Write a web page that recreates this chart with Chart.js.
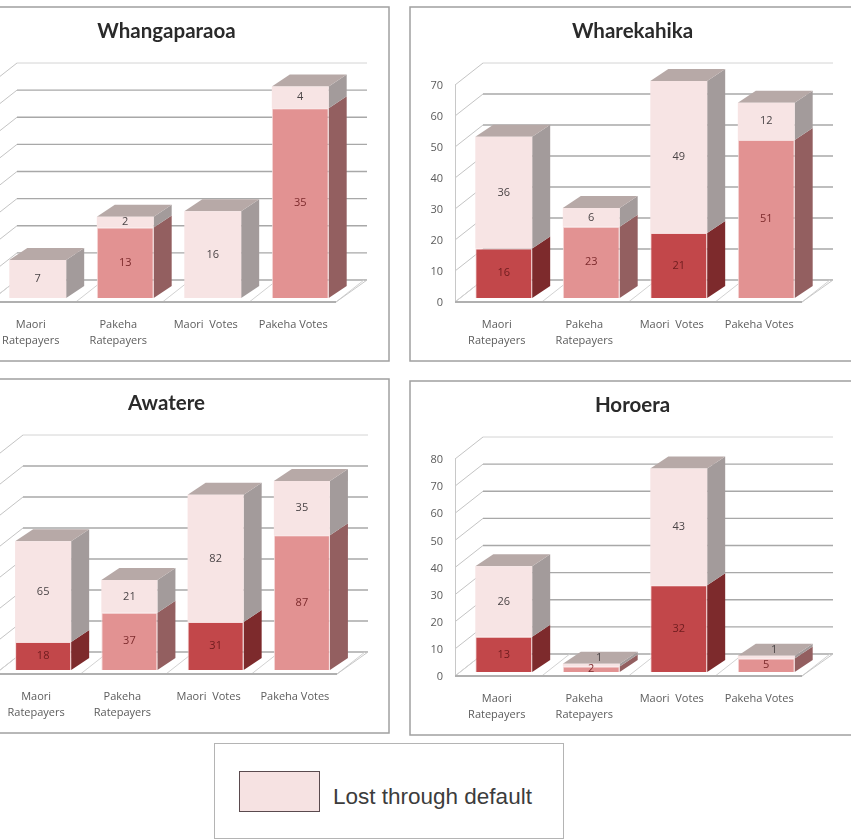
<!DOCTYPE html>
<html>
<head>
<meta charset="utf-8">
<title>Lost through default by block</title>
<script src="https://cdn.jsdelivr.net/npm/chart.js@4"></script>
<style>
  html, body { margin: 0; padding: 0; background: #fff; overflow: hidden; }
  body { position: relative; width: 851px; height: 840px; }
  .panel { position: absolute; width: 447px; height: 356px; }
  .panel canvas { display: block; }
  #legend {
    position: absolute; left: 214px; top: 743px; width: 348px; height: 94px;
    border: 1px solid #b4b4b4; box-sizing: content-box; background: #fff;
  }
  #legend i {
    position: absolute; left: 24px; top: 27px; width: 79px; height: 39px;
    background: #f6e2e2; border: 1px solid #5a4a4e;
  }
  #legend span {
    position: absolute; left: 118px; top: 40px; line-height: 26px;
    font: 22.5px "Liberation Sans", Arial, sans-serif; color: #3c3c3c;
  }
</style>
</head>
<body>
<div class="panel" style="left:-57px;top:6px"><canvas id="whangaparaoa"></canvas></div>
<div class="panel" style="left:409px;top:6px"><canvas id="wharekahika"></canvas></div>
<div class="panel" style="left:-57px;top:378px"><canvas id="awatere"></canvas></div>
<div class="panel" style="left:409px;top:380px"><canvas id="horoera"></canvas></div>
<div id="legend"><i></i><span>Lost through default</span></div>

<script>
// Shared category labels
const categories = [['Maori', 'Ratepayers'], ['Pakeha', 'Ratepayers'], 'Maori  Votes', 'Pakeha Votes'];

// Counts per block: retained (lower segment) and lost through default (upper segment)
const whangaparaoaKept = [0, 13, 0, 35];
const whangaparaoaLost = [7, 2, 16, 4];
const wharekahikaKept = [16, 23, 21, 51];
const wharekahikaLost = [36, 6, 49, 12];
const awatereKept = [18, 37, 31, 87];
const awatereLost = [65, 21, 82, 35];
const horoeraKept = [13, 2, 32, 5];
const horoeraLost = [26, 1, 43, 1];

// Lower segment colours: Maori columns are deep red, Pakeha columns rose
const keptFront = ['#c2474a', '#e29292', '#c2474a', '#e29292'];
const keptSide = ['#7d2a2c', '#935f60', '#7d2a2c', '#935f60'];
const lostFront = '#f7e4e4';
const lostSide = '#a39b9b';
const lostTop = '#b7a9a7';

// Box depth and the depth of the whole plot, both as a shift up and to the right
const BOX_DX = 18, BOX_DY = 12;
const WALL_DX = 28, WALL_DY = 22;
const PLANE_DX = 5, PLANE_DY = 4;

// Draws the side wall, back wall and floor behind the columns
const wallsPlugin = {
  id: 'walls',
  beforeDatasetsDraw(chart) {
    const { ctx, chartArea: a, scales: { y } } = chart;
    const frontX = a.left - PLANE_DX;
    const backX = frontX + WALL_DX;
    const floorRight = a.right - PLANE_DX - 3;
    const backRight = floorRight + WALL_DX + 3;
    ctx.save();
    ctx.lineWidth = 1;
    y.ticks.forEach((t, i) => {
      const py = y.getPixelForValue(t.value) + PLANE_DY;
      const last = i === y.ticks.length - 1;
      ctx.strokeStyle = last ? '#d4d4d4' : '#a8a8a8';
      ctx.lineWidth = last ? 1 : 1.4;
      ctx.beginPath();
      ctx.moveTo(backX, py - WALL_DY);
      ctx.lineTo(backRight, py - WALL_DY);
      ctx.stroke();
      ctx.strokeStyle = '#c4c4c4';
      ctx.lineWidth = 1;
      ctx.beginPath();
      ctx.moveTo(frontX, py);
      ctx.lineTo(backX, py - WALL_DY);
      ctx.stroke();
    });
    const baseY = y.getPixelForValue(0) + PLANE_DY;
    const topY = y.getPixelForValue(y.max) + PLANE_DY;
    // Front vertical edge of the side wall
    ctx.strokeStyle = '#c8c8c8';
    ctx.beginPath();
    ctx.moveTo(frontX + 0.5, topY);
    ctx.lineTo(frontX + 0.5, baseY);
    ctx.stroke();
    // Floor divisions between the categories
    ctx.strokeStyle = '#d2d2d2';
    for (let i = 0; i <= categories.length; i++) {
      const fx = frontX + (floorRight - frontX) * i / categories.length;
      ctx.beginPath();
      ctx.moveTo(fx, baseY);
      ctx.lineTo(fx + WALL_DX, baseY - WALL_DY);
      ctx.stroke();
    }
    // Front edge and right edge of the floor
    ctx.strokeStyle = '#b0b0b0';
    ctx.lineWidth = 2;
    ctx.beginPath();
    ctx.moveTo(frontX, baseY);
    ctx.lineTo(floorRight, baseY);
    ctx.stroke();
    ctx.lineWidth = 1;
    ctx.strokeStyle = '#c8c8c8';
    ctx.beginPath();
    ctx.moveTo(floorRight, baseY);
    ctx.lineTo(backRight, baseY - WALL_DY);
    ctx.stroke();
    ctx.restore();
  }
};

// Extrudes each column element into a box with a side and a lid
const boxPlugin = {
  id: 'box',
  beforeDatasetsDraw(chart) {
    const { ctx } = chart;
    ctx.save();
    chart.data.datasets.forEach((ds, d) => {
      chart.getDatasetMeta(d).data.forEach((bar, i) => {
        if (!ds.data[i]) return;
        const { x, y, base, width } = bar.getProps(['x', 'y', 'base', 'width']);
        const right = x + width / 2;
        const left = x - width / 2;
        ctx.fillStyle = ds.sideColor[i];
        ctx.beginPath();
        ctx.moveTo(right, base);
        ctx.lineTo(right + BOX_DX, base - BOX_DY);
        ctx.lineTo(right + BOX_DX, y - BOX_DY);
        ctx.lineTo(right, y);
        ctx.closePath();
        ctx.fill();
        if (d === chart.data.datasets.length - 1) {
          ctx.fillStyle = lostTop;
          ctx.beginPath();
          ctx.moveTo(left, y);
          ctx.lineTo(left + BOX_DX, y - BOX_DY);
          ctx.lineTo(right + BOX_DX, y - BOX_DY);
          ctx.lineTo(right, y);
          ctx.closePath();
          ctx.fill();
        }
      });
    });
    ctx.restore();
  }
};

// Writes each value on its segment; very thin upper segments carry it on the lid
const valueLabelPlugin = {
  id: 'valueLabels',
  afterDatasetsDraw(chart) {
    const { ctx } = chart;
    ctx.save();
    ctx.font = '11px "Open Sans", sans-serif';
    ctx.textAlign = 'center';
    ctx.textBaseline = 'middle';
    chart.data.datasets.forEach((ds, d) => {
      chart.getDatasetMeta(d).data.forEach((bar, i) => {
        const value = ds.data[i];
        if (!value) return;
        const { x, y, base } = bar.getProps(['x', 'y', 'base']);
        const onLid = d === 1 && base - y < 8;
        ctx.fillStyle = d === 0 ? ds.labelColor[i] : '#4a4446';
        ctx.fillText(String(value), onLid ? x + 8 : x, onLid ? y - 6 : (y + base) / 2);
      });
    });
    ctx.restore();
  }
};

// Outer frame of a panel
const framePlugin = {
  id: 'frame',
  beforeDraw(chart) {
    const { ctx, width, height } = chart;
    ctx.save();
    ctx.fillStyle = '#fff';
    ctx.fillRect(0, 0, width, height);
    ctx.strokeStyle = '#a0a0a0';
    ctx.lineWidth = 1.5;
    ctx.strokeRect(1, 1, width - 2, height - 2);
    ctx.restore();
  }
};

function makePanel(id, name, kept, lost, yMax, yStep, plotLeft, plotRight) {
  new Chart(document.getElementById(id), {
    type: 'bar',
    plugins: [framePlugin, wallsPlugin, boxPlugin, valueLabelPlugin],
    data: {
      labels: categories,
      datasets: [
        {
          label: 'Retained',
          data: kept,
          backgroundColor: keptFront,
          borderColor: '#f6dcdc',
          borderWidth: { left: 1, right: 1, top: 1 },
          borderSkipped: false,
          sideColor: keptSide,
          labelColor: ['#6e1c1e', '#7c2a2c', '#6e1c1e', '#7c2a2c'],
          clip: false
        },
        {
          label: 'Lost through default',
          data: lost,
          backgroundColor: lostFront,
          sideColor: lost.map(() => lostSide),
          clip: false
        }
      ]
    },
    options: {
      responsive: false,
      animation: false,
      barPercentage: 0.65,
      categoryPercentage: 1,
      plugins: {
        legend: { display: false },
        tooltip: { enabled: false },
        title: {
          display: true,
          text: name,
          color: '#2a2a2a',
          font: { family: 'Lato, sans-serif', size: 20.5, weight: 'bold', lineHeight: 1 },
          padding: { top: 15, bottom: 39.5 }
        }
      },
      scales: {
        x: {
          stacked: true,
          grid: { display: false, drawTicks: false },
          border: { display: false },
          afterFit(s) { s.height = 64; },
          ticks: {
            autoSkip: false,
            maxRotation: 0,
            padding: 19,
            labelOffset: -7,
            color: '#5c5c5c',
            font: { family: '"Open Sans", sans-serif', size: 11, lineHeight: 1.45 }
          }
        },
        y: {
          stacked: true,
          min: 0,
          max: yMax,
          grid: { display: false, drawTicks: false },
          border: { display: false },
          afterFit(s) { s.width = plotLeft; },
          ticks: {
            stepSize: yStep,
            padding: 17,
            labelOffset: 5,
            color: '#5c5c5c',
            font: { family: '"Open Sans", sans-serif', size: 11 }
          }
        },
        // Empty right-hand axis that reserves the margin beyond the plot, so the
        // title stays centred on the whole frame
        margin: {
          type: 'linear',
          position: 'right',
          grid: { display: false, drawTicks: false },
          border: { display: false },
          ticks: { display: false },
          afterFit(s) { s.width = 447 - plotRight; }
        }
      }
    }
  });
}

for (const id of ['whangaparaoa', 'wharekahika', 'awatere', 'horoera']) {
  const c = document.getElementById(id);
  c.width = 447;
  c.height = 356;
}

makePanel('whangaparaoa', 'Whangaparaoa', whangaparaoaKept, whangaparaoaLost, 40, 5, 51, 401);
makePanel('wharekahika', 'Wharekahika', wharekahikaKept, wharekahikaLost, 70, 10, 51, 401);
makePanel('awatere', 'Awatere', awatereKept, awatereLost, 140, 20, 57, 402);
makePanel('horoera', 'Horoera', horoeraKept, horoeraLost, 80, 10, 51, 401);
</script>
</body>
</html>
